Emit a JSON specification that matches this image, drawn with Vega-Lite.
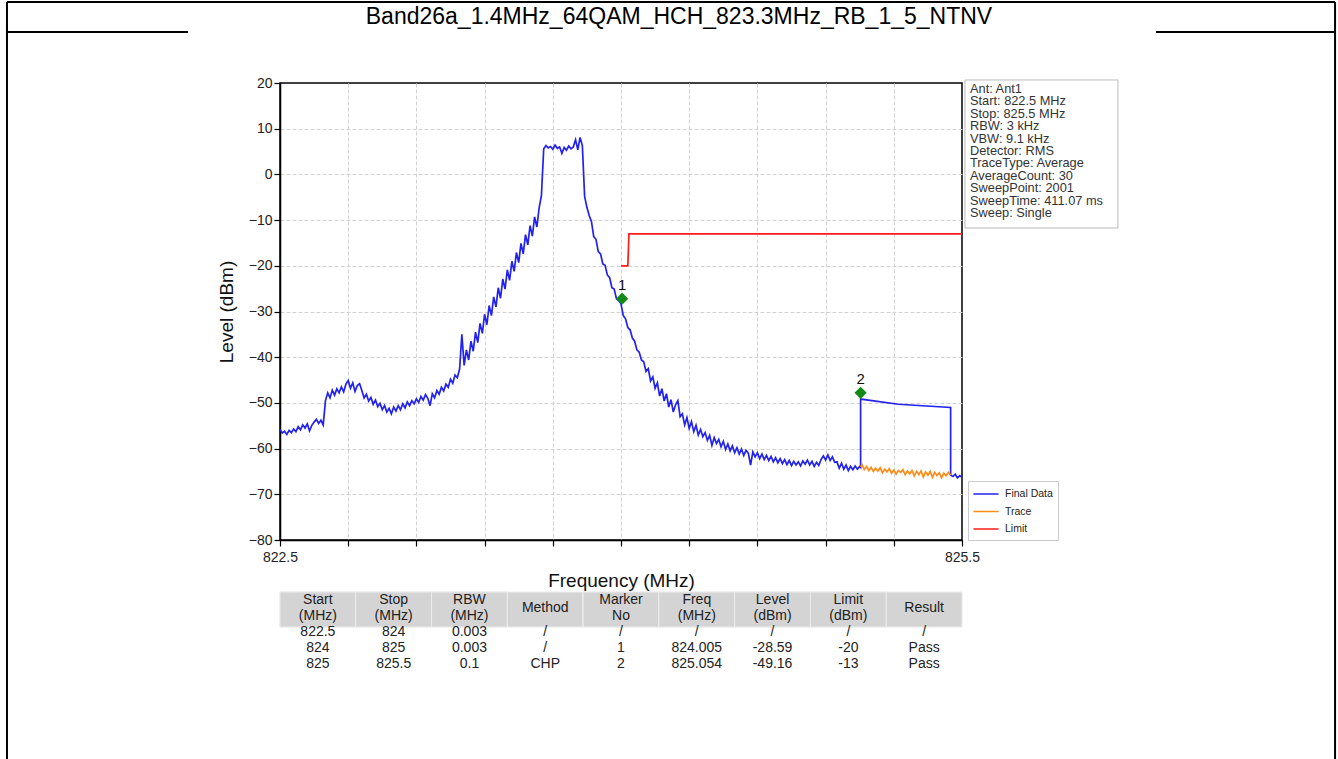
{
  "$schema": "https://vega.github.io/schema/vega-lite/v6.json",
  "width": 682,
  "height": 457,
  "autosize": {"type": "none"},
  "padding": {"left": 280, "top": 83, "right": 376, "bottom": 219},
  "background": "white",
  "config": {
    "view": {"stroke": "#000000", "strokeWidth": 1.5},
    "font": "Liberation Sans",
    "axis": {"domainColor": "#000000", "domainWidth": 1.5, "tickColor": "#000000", "tickSize": 6, "tickWidth": 1.2, "labelFontSize": 14, "labelColor": "#222222", "labelFont": "Liberation Sans", "titleFont": "Liberation Sans", "titleFontSize": 19, "titleFontWeight": "normal", "titleColor": "#111111", "gridColor": "#d2d2d2", "gridDash": [4, 2], "gridWidth": 1, "labelFlush": false, "labelOverlap": false}
  },
  "datasets": {
    "spectrum": [
      {"freq":822.50,"level":-55.8,"series":"Final Data"},{"freq":822.51,"level":-56.6,"series":"Final Data"},{"freq":822.52,"level":-56.2,"series":"Final Data"},{"freq":822.53,"level":-56.9,"series":"Final Data"},{"freq":822.54,"level":-56.0,"series":"Final Data"},{"freq":822.55,"level":-56.5,"series":"Final Data"},{"freq":822.56,"level":-55.7,"series":"Final Data"},{"freq":822.57,"level":-56.3,"series":"Final Data"},{"freq":822.58,"level":-55.2,"series":"Final Data"},{"freq":822.59,"level":-55.9,"series":"Final Data"},
      {"freq":822.60,"level":-54.8,"series":"Final Data"},{"freq":822.61,"level":-55.5,"series":"Final Data"},{"freq":822.62,"level":-54.6,"series":"Final Data"},{"freq":822.63,"level":-56.1,"series":"Final Data"},{"freq":822.64,"level":-54.9,"series":"Final Data"},{"freq":822.65,"level":-54.2,"series":"Final Data"},{"freq":822.66,"level":-53.6,"series":"Final Data"},{"freq":822.67,"level":-54.5,"series":"Final Data"},{"freq":822.68,"level":-53.8,"series":"Final Data"},{"freq":822.69,"level":-54.8,"series":"Final Data"},
      {"freq":822.70,"level":-49.5,"series":"Final Data"},{"freq":822.71,"level":-47.8,"series":"Final Data"},{"freq":822.72,"level":-48.9,"series":"Final Data"},{"freq":822.73,"level":-47.2,"series":"Final Data"},{"freq":822.74,"level":-48.3,"series":"Final Data"},{"freq":822.75,"level":-46.9,"series":"Final Data"},{"freq":822.76,"level":-47.8,"series":"Final Data"},{"freq":822.77,"level":-46.5,"series":"Final Data"},{"freq":822.78,"level":-47.6,"series":"Final Data"},{"freq":822.79,"level":-45.9,"series":"Final Data"},
      {"freq":822.80,"level":-45.1,"series":"Final Data"},{"freq":822.81,"level":-46.8,"series":"Final Data"},{"freq":822.82,"level":-45.6,"series":"Final Data"},{"freq":822.83,"level":-47.5,"series":"Final Data"},{"freq":822.84,"level":-46.2,"series":"Final Data"},{"freq":822.85,"level":-45.8,"series":"Final Data"},{"freq":822.86,"level":-47.3,"series":"Final Data"},{"freq":822.87,"level":-48.9,"series":"Final Data"},{"freq":822.88,"level":-48.1,"series":"Final Data"},{"freq":822.89,"level":-49.6,"series":"Final Data"},
      {"freq":822.90,"level":-48.8,"series":"Final Data"},{"freq":822.91,"level":-50.3,"series":"Final Data"},{"freq":822.92,"level":-49.4,"series":"Final Data"},{"freq":822.93,"level":-50.8,"series":"Final Data"},{"freq":822.94,"level":-50.1,"series":"Final Data"},{"freq":822.95,"level":-51.5,"series":"Final Data"},{"freq":822.96,"level":-50.6,"series":"Final Data"},{"freq":822.97,"level":-52.0,"series":"Final Data"},{"freq":822.98,"level":-51.2,"series":"Final Data"},{"freq":822.99,"level":-52.4,"series":"Final Data"},
      {"freq":823.00,"level":-50.9,"series":"Final Data"},{"freq":823.01,"level":-51.8,"series":"Final Data"},{"freq":823.02,"level":-50.6,"series":"Final Data"},{"freq":823.03,"level":-51.5,"series":"Final Data"},{"freq":823.04,"level":-50.2,"series":"Final Data"},{"freq":823.05,"level":-51.1,"series":"Final Data"},{"freq":823.06,"level":-49.8,"series":"Final Data"},{"freq":823.07,"level":-50.6,"series":"Final Data"},{"freq":823.08,"level":-49.5,"series":"Final Data"},{"freq":823.09,"level":-50.2,"series":"Final Data"},
      {"freq":823.10,"level":-49.1,"series":"Final Data"},{"freq":823.11,"level":-49.9,"series":"Final Data"},{"freq":823.12,"level":-48.6,"series":"Final Data"},{"freq":823.13,"level":-49.4,"series":"Final Data"},{"freq":823.14,"level":-48.2,"series":"Final Data"},{"freq":823.15,"level":-49.0,"series":"Final Data"},{"freq":823.16,"level":-50.6,"series":"Final Data"},{"freq":823.17,"level":-48.0,"series":"Final Data"},{"freq":823.18,"level":-48.9,"series":"Final Data"},{"freq":823.19,"level":-47.3,"series":"Final Data"},
      {"freq":823.20,"level":-48.1,"series":"Final Data"},{"freq":823.21,"level":-46.6,"series":"Final Data"},{"freq":823.22,"level":-47.4,"series":"Final Data"},{"freq":823.23,"level":-45.9,"series":"Final Data"},{"freq":823.24,"level":-46.6,"series":"Final Data"},{"freq":823.25,"level":-44.8,"series":"Final Data"},{"freq":823.26,"level":-45.7,"series":"Final Data"},{"freq":823.27,"level":-43.9,"series":"Final Data"},{"freq":823.28,"level":-44.5,"series":"Final Data"},{"freq":823.29,"level":-42.6,"series":"Final Data"},
      {"freq":823.30,"level":-35.0,"series":"Final Data"},{"freq":823.31,"level":-41.8,"series":"Final Data"},{"freq":823.32,"level":-38.4,"series":"Final Data"},{"freq":823.33,"level":-40.6,"series":"Final Data"},{"freq":823.34,"level":-36.5,"series":"Final Data"},{"freq":823.35,"level":-38.7,"series":"Final Data"},{"freq":823.36,"level":-34.5,"series":"Final Data"},{"freq":823.37,"level":-36.8,"series":"Final Data"},{"freq":823.38,"level":-32.6,"series":"Final Data"},{"freq":823.39,"level":-34.8,"series":"Final Data"},
      {"freq":823.40,"level":-30.6,"series":"Final Data"},{"freq":823.41,"level":-32.9,"series":"Final Data"},{"freq":823.42,"level":-28.7,"series":"Final Data"},{"freq":823.43,"level":-30.9,"series":"Final Data"},{"freq":823.44,"level":-26.8,"series":"Final Data"},{"freq":823.45,"level":-29.0,"series":"Final Data"},{"freq":823.46,"level":-24.8,"series":"Final Data"},{"freq":823.47,"level":-27.1,"series":"Final Data"},{"freq":823.48,"level":-22.9,"series":"Final Data"},{"freq":823.49,"level":-25.1,"series":"Final Data"},
      {"freq":823.50,"level":-20.9,"series":"Final Data"},{"freq":823.51,"level":-23.2,"series":"Final Data"},{"freq":823.52,"level":-19.0,"series":"Final Data"},{"freq":823.53,"level":-21.2,"series":"Final Data"},{"freq":823.54,"level":-17.1,"series":"Final Data"},{"freq":823.55,"level":-19.3,"series":"Final Data"},{"freq":823.56,"level":-15.1,"series":"Final Data"},{"freq":823.57,"level":-17.4,"series":"Final Data"},{"freq":823.58,"level":-13.2,"series":"Final Data"},{"freq":823.59,"level":-15.4,"series":"Final Data"},
      {"freq":823.60,"level":-11.2,"series":"Final Data"},{"freq":823.61,"level":-13.5,"series":"Final Data"},{"freq":823.62,"level":-9.3,"series":"Final Data"},{"freq":823.63,"level":-11.5,"series":"Final Data"},{"freq":823.64,"level":-7.3,"series":"Final Data"},{"freq":823.65,"level":-4.6,"series":"Final Data"},{"freq":823.66,"level":5.6,"series":"Final Data"},{"freq":823.67,"level":6.3,"series":"Final Data"},{"freq":823.68,"level":5.8,"series":"Final Data"},{"freq":823.69,"level":6.1,"series":"Final Data"},
      {"freq":823.70,"level":5.5,"series":"Final Data"},{"freq":823.71,"level":6.4,"series":"Final Data"},{"freq":823.72,"level":5.7,"series":"Final Data"},{"freq":823.73,"level":6.0,"series":"Final Data"},{"freq":823.74,"level":4.6,"series":"Final Data"},{"freq":823.75,"level":5.9,"series":"Final Data"},{"freq":823.76,"level":5.3,"series":"Final Data"},{"freq":823.77,"level":6.2,"series":"Final Data"},{"freq":823.78,"level":5.6,"series":"Final Data"},{"freq":823.79,"level":6.0,"series":"Final Data"},
      {"freq":823.80,"level":7.6,"series":"Final Data"},{"freq":823.81,"level":5.4,"series":"Final Data"},{"freq":823.82,"level":8.1,"series":"Final Data"},{"freq":823.83,"level":6.3,"series":"Final Data"},{"freq":823.84,"level":-4.8,"series":"Final Data"},{"freq":823.85,"level":-7.2,"series":"Final Data"},{"freq":823.86,"level":-9.0,"series":"Final Data"},{"freq":823.87,"level":-10.3,"series":"Final Data"},{"freq":823.88,"level":-13.6,"series":"Final Data"},{"freq":823.89,"level":-14.2,"series":"Final Data"},
      {"freq":823.90,"level":-16.9,"series":"Final Data"},{"freq":823.91,"level":-17.4,"series":"Final Data"},{"freq":823.92,"level":-19.6,"series":"Final Data"},{"freq":823.93,"level":-19.9,"series":"Final Data"},{"freq":823.94,"level":-22.0,"series":"Final Data"},{"freq":823.95,"level":-22.6,"series":"Final Data"},{"freq":823.96,"level":-24.8,"series":"Final Data"},{"freq":823.97,"level":-25.1,"series":"Final Data"},{"freq":823.98,"level":-27.2,"series":"Final Data"},{"freq":823.99,"level":-27.6,"series":"Final Data"},
      {"freq":824.00,"level":-28.3,"series":"Final Data"},{"freq":824.01,"level":-30.9,"series":"Final Data"},{"freq":824.02,"level":-31.6,"series":"Final Data"},{"freq":824.03,"level":-33.5,"series":"Final Data"},{"freq":824.04,"level":-34.0,"series":"Final Data"},{"freq":824.05,"level":-35.8,"series":"Final Data"},{"freq":824.06,"level":-36.5,"series":"Final Data"},{"freq":824.07,"level":-38.4,"series":"Final Data"},{"freq":824.08,"level":-38.9,"series":"Final Data"},{"freq":824.09,"level":-40.6,"series":"Final Data"},
      {"freq":824.10,"level":-41.0,"series":"Final Data"},{"freq":824.11,"level":-43.1,"series":"Final Data"},{"freq":824.12,"level":-42.5,"series":"Final Data"},{"freq":824.13,"level":-45.2,"series":"Final Data"},{"freq":824.14,"level":-44.3,"series":"Final Data"},{"freq":824.15,"level":-46.8,"series":"Final Data"},{"freq":824.16,"level":-45.6,"series":"Final Data"},{"freq":824.17,"level":-48.5,"series":"Final Data"},{"freq":824.18,"level":-46.9,"series":"Final Data"},{"freq":824.19,"level":-49.6,"series":"Final Data"},
      {"freq":824.20,"level":-48.0,"series":"Final Data"},{"freq":824.21,"level":-50.9,"series":"Final Data"},{"freq":824.22,"level":-49.3,"series":"Final Data"},{"freq":824.23,"level":-52.0,"series":"Final Data"},{"freq":824.24,"level":-50.4,"series":"Final Data"},{"freq":824.25,"level":-49.5,"series":"Final Data"},{"freq":824.26,"level":-53.0,"series":"Final Data"},{"freq":824.27,"level":-52.4,"series":"Final Data"},{"freq":824.28,"level":-54.8,"series":"Final Data"},{"freq":824.29,"level":-53.2,"series":"Final Data"},
      {"freq":824.30,"level":-55.6,"series":"Final Data"},{"freq":824.31,"level":-54.1,"series":"Final Data"},{"freq":824.32,"level":-56.3,"series":"Final Data"},{"freq":824.33,"level":-54.9,"series":"Final Data"},{"freq":824.34,"level":-57.0,"series":"Final Data"},{"freq":824.35,"level":-55.8,"series":"Final Data"},{"freq":824.36,"level":-57.4,"series":"Final Data"},{"freq":824.37,"level":-56.5,"series":"Final Data"},{"freq":824.38,"level":-58.2,"series":"Final Data"},{"freq":824.39,"level":-57.1,"series":"Final Data"},
      {"freq":824.40,"level":-59.3,"series":"Final Data"},{"freq":824.41,"level":-57.6,"series":"Final Data"},{"freq":824.42,"level":-58.9,"series":"Final Data"},{"freq":824.43,"level":-58.0,"series":"Final Data"},{"freq":824.44,"level":-59.6,"series":"Final Data"},{"freq":824.45,"level":-58.4,"series":"Final Data"},{"freq":824.46,"level":-60.2,"series":"Final Data"},{"freq":824.47,"level":-59.0,"series":"Final Data"},{"freq":824.48,"level":-60.5,"series":"Final Data"},{"freq":824.49,"level":-59.4,"series":"Final Data"},
      {"freq":824.50,"level":-60.9,"series":"Final Data"},{"freq":824.51,"level":-59.8,"series":"Final Data"},{"freq":824.52,"level":-61.2,"series":"Final Data"},{"freq":824.53,"level":-60.1,"series":"Final Data"},{"freq":824.54,"level":-61.5,"series":"Final Data"},{"freq":824.55,"level":-60.4,"series":"Final Data"},{"freq":824.56,"level":-61.0,"series":"Final Data"},{"freq":824.57,"level":-63.6,"series":"Final Data"},{"freq":824.58,"level":-60.7,"series":"Final Data"},{"freq":824.59,"level":-61.8,"series":"Final Data"},
      {"freq":824.60,"level":-60.9,"series":"Final Data"},{"freq":824.61,"level":-62.2,"series":"Final Data"},{"freq":824.62,"level":-61.2,"series":"Final Data"},{"freq":824.63,"level":-62.4,"series":"Final Data"},{"freq":824.64,"level":-61.5,"series":"Final Data"},{"freq":824.65,"level":-62.6,"series":"Final Data"},{"freq":824.66,"level":-61.7,"series":"Final Data"},{"freq":824.67,"level":-62.9,"series":"Final Data"},{"freq":824.68,"level":-62.0,"series":"Final Data"},{"freq":824.69,"level":-63.1,"series":"Final Data"},
      {"freq":824.70,"level":-62.2,"series":"Final Data"},{"freq":824.71,"level":-63.3,"series":"Final Data"},{"freq":824.72,"level":-62.4,"series":"Final Data"},{"freq":824.73,"level":-63.5,"series":"Final Data"},{"freq":824.74,"level":-62.6,"series":"Final Data"},{"freq":824.75,"level":-63.7,"series":"Final Data"},{"freq":824.76,"level":-62.8,"series":"Final Data"},{"freq":824.77,"level":-63.6,"series":"Final Data"},{"freq":824.78,"level":-62.9,"series":"Final Data"},{"freq":824.79,"level":-63.8,"series":"Final Data"},
      {"freq":824.80,"level":-62.7,"series":"Final Data"},{"freq":824.81,"level":-63.4,"series":"Final Data"},{"freq":824.82,"level":-62.5,"series":"Final Data"},{"freq":824.83,"level":-63.6,"series":"Final Data"},{"freq":824.84,"level":-62.8,"series":"Final Data"},{"freq":824.85,"level":-63.9,"series":"Final Data"},{"freq":824.86,"level":-63.0,"series":"Final Data"},{"freq":824.87,"level":-63.7,"series":"Final Data"},{"freq":824.88,"level":-62.4,"series":"Final Data"},{"freq":824.89,"level":-61.6,"series":"Final Data"},
      {"freq":824.90,"level":-62.5,"series":"Final Data"},{"freq":824.91,"level":-61.4,"series":"Final Data"},{"freq":824.92,"level":-62.6,"series":"Final Data"},{"freq":824.93,"level":-61.8,"series":"Final Data"},{"freq":824.94,"level":-63.0,"series":"Final Data"},{"freq":824.95,"level":-62.9,"series":"Final Data"},{"freq":824.96,"level":-64.3,"series":"Final Data"},{"freq":824.97,"level":-63.2,"series":"Final Data"},{"freq":824.98,"level":-64.5,"series":"Final Data"},{"freq":824.99,"level":-63.6,"series":"Final Data"},
      {"freq":825.00,"level":-64.8,"series":"Final Data"},{"freq":825.01,"level":-63.9,"series":"Final Data"},{"freq":825.02,"level":-64.6,"series":"Final Data"},{"freq":825.03,"level":-63.8,"series":"Final Data"},{"freq":825.04,"level":-64.5,"series":"Final Data"},{"freq":825.05,"level":-63.9,"series":"Final Data"},
      {"freq":825.054,"level":-64.1,"series":"Final Data"},{"freq":825.054,"level":-49.16,"series":"Final Data"},{"freq":825.22,"level":-50.3,"series":"Final Data"},{"freq":825.45,"level":-51.0,"series":"Final Data"},{"freq":825.45,"level":-65.8,"series":"Final Data"},{"freq":825.46,"level":-66.1,"series":"Final Data"},{"freq":825.47,"level":-65.6,"series":"Final Data"},{"freq":825.48,"level":-66.4,"series":"Final Data"},{"freq":825.49,"level":-65.9,"series":"Final Data"},{"freq":825.50,"level":-66.3,"series":"Final Data"},
      {"freq":825.054,"level":-64.0,"series":"Trace"},{"freq":825.06,"level":-63.5,"series":"Trace"},{"freq":825.07,"level":-64.6,"series":"Trace"},{"freq":825.08,"level":-63.9,"series":"Trace"},{"freq":825.09,"level":-64.8,"series":"Trace"},{"freq":825.10,"level":-64.1,"series":"Trace"},{"freq":825.11,"level":-65.0,"series":"Trace"},{"freq":825.12,"level":-64.3,"series":"Trace"},{"freq":825.13,"level":-64.9,"series":"Trace"},{"freq":825.14,"level":-64.2,"series":"Trace"},
      {"freq":825.15,"level":-65.3,"series":"Trace"},{"freq":825.16,"level":-64.5,"series":"Trace"},{"freq":825.17,"level":-65.1,"series":"Trace"},{"freq":825.18,"level":-64.4,"series":"Trace"},{"freq":825.19,"level":-65.4,"series":"Trace"},{"freq":825.20,"level":-64.7,"series":"Trace"},{"freq":825.21,"level":-65.6,"series":"Trace"},{"freq":825.22,"level":-64.8,"series":"Trace"},{"freq":825.23,"level":-65.2,"series":"Trace"},{"freq":825.24,"level":-64.6,"series":"Trace"},
      {"freq":825.25,"level":-65.7,"series":"Trace"},{"freq":825.26,"level":-64.9,"series":"Trace"},{"freq":825.27,"level":-65.5,"series":"Trace"},{"freq":825.28,"level":-64.8,"series":"Trace"},{"freq":825.29,"level":-66.0,"series":"Trace"},{"freq":825.30,"level":-65.0,"series":"Trace"},{"freq":825.31,"level":-65.7,"series":"Trace"},{"freq":825.32,"level":-64.9,"series":"Trace"},{"freq":825.33,"level":-66.2,"series":"Trace"},{"freq":825.34,"level":-65.1,"series":"Trace"},
      {"freq":825.35,"level":-65.8,"series":"Trace"},{"freq":825.36,"level":-65.0,"series":"Trace"},{"freq":825.37,"level":-66.3,"series":"Trace"},{"freq":825.38,"level":-65.2,"series":"Trace"},{"freq":825.39,"level":-65.9,"series":"Trace"},{"freq":825.40,"level":-65.3,"series":"Trace"},{"freq":825.41,"level":-66.4,"series":"Trace"},{"freq":825.42,"level":-65.4,"series":"Trace"},{"freq":825.43,"level":-65.9,"series":"Trace"},{"freq":825.44,"level":-65.2,"series":"Trace"},{"freq":825.45,"level":-65.8,"series":"Trace"},
      {"freq":824.00,"level":-20,"series":"Limit"},{"freq":824.03,"level":-20,"series":"Limit"},{"freq":824.035,"level":-13,"series":"Limit"},{"freq":825.50,"level":-13,"series":"Limit"}
    ],
    "markers": [
      {"marker":"1","freq":824.005,"level":-27.2},
      {"marker":"2","freq":825.054,"level":-47.8}
    ],
    "table": [
      {"col":"Start","row":0,"text":"Start","part":"header"},{"col":"Start","row":1,"text":"(MHz)","part":"header"},
      {"col":"Stop","row":0,"text":"Stop","part":"header"},{"col":"Stop","row":1,"text":"(MHz)","part":"header"},
      {"col":"RBW","row":0,"text":"RBW","part":"header"},{"col":"RBW","row":1,"text":"(MHz)","part":"header"},
      {"col":"Method","row":0.5,"text":"Method","part":"header"},
      {"col":"Marker","row":0,"text":"Marker","part":"header"},{"col":"Marker","row":1,"text":"No","part":"header"},
      {"col":"Freq","row":0,"text":"Freq","part":"header"},{"col":"Freq","row":1,"text":"(MHz)","part":"header"},
      {"col":"Level","row":0,"text":"Level","part":"header"},{"col":"Level","row":1,"text":"(dBm)","part":"header"},
      {"col":"Limit","row":0,"text":"Limit","part":"header"},{"col":"Limit","row":1,"text":"(dBm)","part":"header"},
      {"col":"Result","row":0.5,"text":"Result","part":"header"},
      {"col":"Start","row":2,"text":"822.5","part":"body"},{"col":"Stop","row":2,"text":"824","part":"body"},{"col":"RBW","row":2,"text":"0.003","part":"body"},{"col":"Method","row":2,"text":"/","part":"body"},{"col":"Marker","row":2,"text":"/","part":"body"},{"col":"Freq","row":2,"text":"/","part":"body"},{"col":"Level","row":2,"text":"/","part":"body"},{"col":"Limit","row":2,"text":"/","part":"body"},{"col":"Result","row":2,"text":"/","part":"body"},
      {"col":"Start","row":3,"text":"824","part":"body"},{"col":"Stop","row":3,"text":"825","part":"body"},{"col":"RBW","row":3,"text":"0.003","part":"body"},{"col":"Method","row":3,"text":"/","part":"body"},{"col":"Marker","row":3,"text":"1","part":"body"},{"col":"Freq","row":3,"text":"824.005","part":"body"},{"col":"Level","row":3,"text":"-28.59","part":"body"},{"col":"Limit","row":3,"text":"-20","part":"body"},{"col":"Result","row":3,"text":"Pass","part":"body"},
      {"col":"Start","row":4,"text":"825","part":"body"},{"col":"Stop","row":4,"text":"825.5","part":"body"},{"col":"RBW","row":4,"text":"0.1","part":"body"},{"col":"Method","row":4,"text":"CHP","part":"body"},{"col":"Marker","row":4,"text":"2","part":"body"},{"col":"Freq","row":4,"text":"825.054","part":"body"},{"col":"Level","row":4,"text":"-49.16","part":"body"},{"col":"Limit","row":4,"text":"-13","part":"body"},{"col":"Result","row":4,"text":"Pass","part":"body"}
    ]
  },
  "layer": [
    {
      "layer": [
        {
          "data": {"name": "spectrum"},
          "mark": {"type": "line", "strokeWidth": 1.7, "clip": true},
          "encoding": {
            "x": {"field": "freq", "type": "quantitative", "scale": {"domain": [822.5, 825.5], "nice": false, "zero": false},
                  "axis": {"title": "Frequency (MHz)", "values": [822.5, 822.8, 823.1, 823.4, 823.7, 824.0, 824.3, 824.6, 824.9, 825.2, 825.5], "labelExpr": "(datum.value < 822.51 || datum.value > 825.49) ? format(datum.value, '.1f') : ''", "labelPadding": 4, "titlePadding": 7, "grid": true,
                           "gridOpacity": {"condition": {"test": "datum.value < 822.51 || datum.value > 825.49", "value": 0}, "value": 1}}},
            "y": {"field": "level", "type": "quantitative", "scale": {"domain": [-80, 20], "nice": false, "zero": false},
                  "axis": {"title": "Level (dBm)", "values": [-80, -70, -60, -50, -40, -30, -20, -10, 0, 10, 20], "labelExpr": "replace(format(datum.value, 'd'), '-', '\u2212')", "labelPadding": 2, "titlePadding": 12, "grid": true,
                           "gridOpacity": {"condition": {"test": "datum.value < -79 || datum.value > 19", "value": 0}, "value": 1}}},
            "color": {"field": "series", "type": "nominal",
                      "scale": {"domain": ["Final Data", "Trace", "Limit"], "range": ["#2222ee", "#ff8c1a", "#ff1a1a"]},
                      "legend": {"title": null, "orient": "none", "legendX": 688, "legendY": 398, "padding": 5, "strokeColor": "#cccccc", "fillColor": "#ffffff", "symbolType": "M-1.8,0H1.8", "symbolSize": 196, "symbolStrokeWidth": 1.5, "symbolOffset": 5, "rowPadding": 3.5, "labelOffset": 11, "labelFontSize": 10.5, "labelColor": "#222222", "labelFont": "Liberation Sans"}},
            "order": {"value": null}
          }
        },
        {
          "data": {"name": "markers"},
          "mark": {"type": "point", "shape": "diamond", "filled": true, "color": "#138a13", "size": 150, "opacity": 1},
          "encoding": {
            "x": {"field": "freq", "type": "quantitative"},
            "y": {"field": "level", "type": "quantitative"}
          }
        },
        {
          "data": {"name": "markers"},
          "mark": {"type": "text", "dy": -14, "fontSize": 15, "color": "#111111", "font": "Liberation Sans"},
          "encoding": {
            "x": {"field": "freq", "type": "quantitative"},
            "y": {"field": "level", "type": "quantitative"},
            "text": {"field": "marker"}
          }
        },
        {
          "data": {"values": [{}]},
          "mark": {"type": "rect", "fill": "#ffffff", "stroke": "#bbbbbb", "strokeWidth": 1},
          "encoding": {
            "x": {"datum": 825.513, "type": "quantitative"},
            "x2": {"datum": 826.186},
            "y": {"datum": 20.66, "type": "quantitative"},
            "y2": {"datum": -11.73}
          }
        },
        {
          "data": {"values": [{}]},
          "mark": {"type": "text", "align": "left", "baseline": "top", "dx": 8, "dy": 0, "fontSize": 12.8, "lineHeight": 12.4, "color": "#333333", "font": "Liberation Sans",
                   "text": ["Ant: Ant1", "Start: 822.5 MHz", "Stop: 825.5 MHz", "RBW: 3 kHz", "VBW: 9.1 kHz", "Detector: RMS", "TraceType: Average", "AverageCount: 30", "SweepPoint: 2001", "SweepTime: 411.07 ms", "Sweep: Single"]},
          "encoding": {
            "x": {"datum": 825.5, "type": "quantitative"},
            "y": {"datum": 20, "type": "quantitative"}
          }
        },
        {
          "data": {"values": [{}]},
          "mark": {"type": "text", "align": "center", "baseline": "alphabetic", "fontSize": 23, "color": "#000000", "font": "Liberation Sans",
                   "text": "Band26a_1.4MHz_64QAM_HCH_823.3MHz_RB_1_5_NTNV"},
          "encoding": {
            "x": {"datum": 824.255, "type": "quantitative"},
            "y": {"datum": 32.9, "type": "quantitative"}
          }
        },
        {
          "data": {"values": [{}]},
          "mark": {"type": "rule", "color": "#000000", "strokeWidth": 2},
          "encoding": {
            "x": {"datum": 821.299, "type": "quantitative"},
            "x2": {"datum": 827.141},
            "y": {"datum": 37.72, "type": "quantitative"}
          }
        },
        {
          "data": {"values": [{}]},
          "mark": {"type": "rule", "color": "#000000", "strokeWidth": 2},
          "encoding": {
            "x": {"datum": 821.299, "type": "quantitative"},
            "y": {"datum": 37.72, "type": "quantitative"},
            "y2": {"datum": -128}
          }
        },
        {
          "data": {"values": [{}]},
          "mark": {"type": "rule", "color": "#000000", "strokeWidth": 2},
          "encoding": {
            "x": {"datum": 827.141, "type": "quantitative"},
            "y": {"datum": 37.72, "type": "quantitative"},
            "y2": {"datum": -128}
          }
        },
        {
          "data": {"values": [{}]},
          "mark": {"type": "rule", "color": "#000000", "strokeWidth": 2},
          "encoding": {
            "x": {"datum": 821.299, "type": "quantitative"},
            "x2": {"datum": 822.095},
            "y": {"datum": 31.16, "type": "quantitative"}
          }
        },
        {
          "data": {"values": [{}]},
          "mark": {"type": "rule", "color": "#000000", "strokeWidth": 2},
          "encoding": {
            "x": {"datum": 826.353, "type": "quantitative"},
            "x2": {"datum": 827.141},
            "y": {"datum": 31.16, "type": "quantitative"}
          }
        }
      ]
    },
    {
      "data": {"name": "table"},
      "encoding": {
        "x": {"field": "col", "type": "nominal", "scale": {"domain": ["Start", "Stop", "RBW", "Method", "Marker", "Freq", "Level", "Limit", "Result"], "paddingInner": 0, "paddingOuter": 0}, "axis": null}
      },
      "layer": [
        {
          "transform": [{"filter": "datum.part == 'header'"}],
          "mark": {"type": "rect", "fill": "#d4d4d4", "stroke": "#ececec", "strokeWidth": 1},
          "encoding": {
            "y": {"datum": -0.5, "type": "quantitative", "scale": {"domain": [-32.3125, -3.75], "reverse": true, "nice": false, "zero": false}, "axis": null},
            "y2": {"datum": 1.69}
          }
        },
        {
          "mark": {"type": "text", "fontSize": 14, "color": "#222222", "font": "Liberation Sans Narrow, Arial Narrow, Liberation Sans", "baseline": "middle"},
          "encoding": {
            "y": {"field": "row", "type": "quantitative", "axis": null},
            "text": {"field": "text"}
          }
        }
      ]
    }
  ],
  "resolve": {"scale": {"x": "independent", "y": "independent"}}
}
